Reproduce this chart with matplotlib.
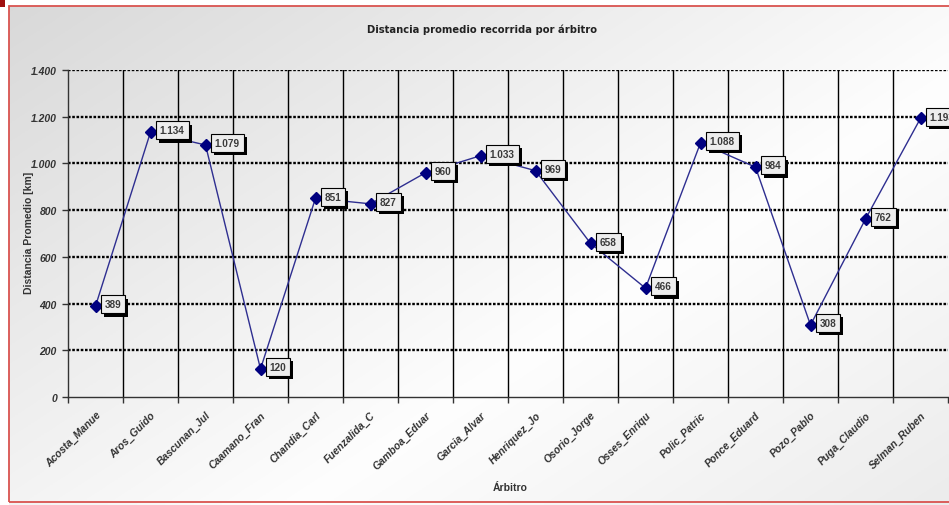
import numpy as np
import matplotlib
matplotlib.use("Agg")
import matplotlib.pyplot as plt
import matplotlib.patheffects as pe
from matplotlib.patches import Rectangle
from matplotlib.ticker import FuncFormatter, FixedLocator

arbitros = ["Acosta_Manue", "Aros_Guido", "Bascunan_Jul", "Caamano_Fran",
            "Chandia_Carl", "Fuenzalida_C", "Gamboa_Eduar", "Garcia_Alvar",
            "Henriquez_Jo", "Osorio_Jorge", "Osses_Enriqu", "Polic_Patric",
            "Ponce_Eduard", "Pozo_Pablo", "Puga_Claudio", "Selman_Ruben"]
distancia_km = [389, 1134, 1079, 120, 851, 827, 960, 1033,
                969, 658, 466, 1088, 984, 308, 762, 1193]
y_ticks = [0, 200, 400, 600, 800, 1000, 1200, 1400]

W, H, DPI = 949, 506, 100
plt.rcParams["font.family"] = ["Liberation Sans", "DejaVu Sans"]

fig = plt.figure(figsize=(W / DPI, H / DPI), dpi=DPI)
fig.patch.set_facecolor("white")


def thousands(v):
    return f"{int(round(v)):,}".replace(",", ".")


# gradient backdrop of the chart area
bg = fig.add_axes([9 / W, 0, 1 - 9 / W, 1 - 7 / H])
bg.set_axis_off()
gx, gy = np.meshgrid(np.linspace(0, 1, 300), np.linspace(0, 1, 200))
t = 0.55 * gx + 0.45 * gy
shade = np.where(t < 0.62, 0.85 + (0.995 - 0.85) * (t / 0.62),
                 0.995 - (t - 0.62) / 0.38 * 0.07)
bg.imshow(np.dstack([shade, shade, shade]), aspect="auto",
          extent=[0, 1, 0, 1], origin="upper")
bg.set_xlim(0, 1)
bg.set_ylim(0, 1)

# red frame and corner mark
fig.patches.append(Rectangle((9 / W, 3 / H), 1.0, 1 - 10 / H,
                             transform=fig.transFigure, fill=False,
                             ec="#d9534f", lw=1.3))
fig.patches.append(Rectangle((0, 1 - 8 / H), 5 / W, 8 / H,
                             transform=fig.transFigure, fc="#a01010",
                             ec="none"))

ax = fig.add_axes([68 / W, 1 - 398 / H, (948 - 68) / W, (398 - 71) / H])
ax.set_facecolor("none")
n = len(arbitros)
x = np.arange(n)
ax.set_xlim(-0.5, n - 0.5)
ax.set_ylim(0, 1400)

# grid: dotted horizontals, solid verticals at category boundaries
for v in y_ticks[1:]:
    ax.axhline(v, color="black", lw=1.7, ls=(0, (1.1, 0.7)), zorder=1)
for b in np.arange(0.5, n - 0.5, 1):
    ax.axvline(b, color="black", lw=1.0, zorder=1)

ax.plot(x, distancia_km, color="#2e2e90", lw=1.0, zorder=3)
ax.plot(x, distancia_km, ls="none", marker="D", ms=6.5, color="#000080",
        zorder=4)

# value labels in boxes with a drop shadow
box_shadow = [pe.SimplePatchShadow(offset=(2.2, -2.2), shadow_rgbFace="black",
                                   alpha=1.0), pe.Normal()]
for xi, v in zip(x, distancia_km):
    lbl = ax.annotate(thousands(v), (xi, v), xytext=(6.6, 1.2),
                      textcoords="offset points", ha="left", va="center",
                      fontsize=7.2, fontweight="bold", color="#3a3a3a",
                      bbox=dict(boxstyle="square,pad=0.4", fc="#ededed",
                                ec="black", lw=0.8),
                      zorder=6, annotation_clip=False)
    lbl.get_bbox_patch().set_path_effects(box_shadow)

for s in ["top", "right"]:
    ax.spines[s].set_visible(False)
for s in ["left", "bottom"]:
    ax.spines[s].set_color("#333333")
    ax.spines[s].set_linewidth(1.0)

ax.yaxis.set_major_locator(FixedLocator(y_ticks))
ax.yaxis.set_major_formatter(FuncFormatter(lambda v, p: thousands(v)))
ax.tick_params(axis="y", length=4, width=1, pad=4, labelsize=7.5,
               colors="#333333")
for lab in ax.get_yticklabels():
    lab.set_fontstyle("italic")
    lab.set_fontweight("bold")

ax.set_xticks(np.arange(-0.5, n, 1), minor=False)
ax.set_xticklabels([])
ax.set_xticks(x, minor=True)
ax.set_xticklabels(arbitros, minor=True, rotation=45, ha="right",
                   va="top", rotation_mode="anchor", fontsize=7.5,
                   fontstyle="italic", fontweight="bold", color="#333333")
ax.tick_params(axis="x", which="major", length=4, width=1, color="#333333")
ax.tick_params(axis="x", which="minor", length=0, pad=9)

fig.text(482 / W, 1 - 30 / H, "Distancia promedio recorrida por árbitro",
         ha="center", va="center", fontsize=7.2, fontweight="bold",
         color="#222222", family=["DejaVu Sans"])
fig.text(29 / W, 1 - 233 / H, "Distancia Promedio [km]", rotation=90,
         ha="center", va="center", fontsize=7.5, fontweight="bold",
         color="#333333")
fig.text(510 / W, 1 - 488 / H, "Árbitro", ha="center", va="center",
         fontsize=7.5, fontweight="bold", color="#333333")

fig.savefig("out.png", dpi=DPI)
